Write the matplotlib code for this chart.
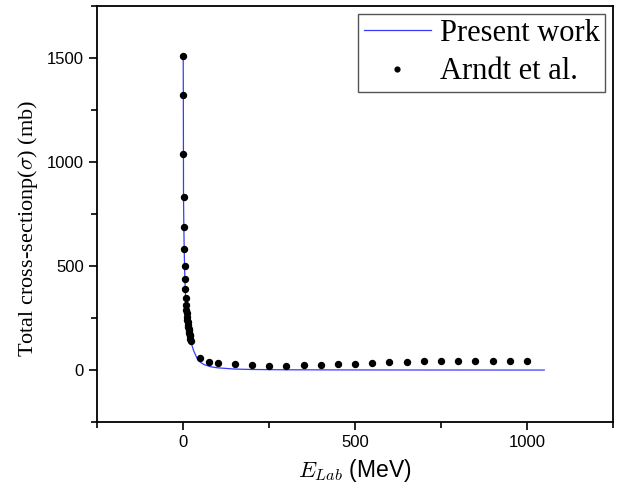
import matplotlib
matplotlib.use("Agg")
import matplotlib.pyplot as plt
from matplotlib.ticker import MultipleLocator

plt.rcParams['mathtext.fontset'] = 'cm'

# Arndt et al. data points (E_lab in MeV, total cross-section in mb)
arndt_e = [0.1, 0.5, 0.8, 1, 2, 3, 4, 5, 6, 7, 8, 9, 10, 11, 12, 13, 14, 15,
           16, 17, 18, 19, 20, 21, 22, 50, 75, 100, 150, 200, 250, 300, 350,
           400, 450, 500, 550, 600, 650, 700, 750, 800, 850, 900, 950, 1000]
arndt_sigma = [1511, 1322, 1038, 833, 687, 580, 500, 439, 389, 348, 313, 290,
               272, 256, 242, 229, 217, 206, 196, 187, 178, 170, 162, 150, 139,
               59, 40, 32, 27, 24, 22, 22, 24, 26, 29, 30, 34, 37, 38, 43, 45,
               45, 45, 46, 46, 46]

# present work curve
present_e = [0.1, 0.5, 0.8, 1, 2, 3, 4, 5, 6, 8, 10, 12, 15, 20, 25, 30, 40,
             50, 60, 80, 100, 150, 200, 300, 500, 700, 1000, 1050]
present_sigma = [1511, 1322, 1038, 833, 687, 580, 500, 439, 389, 313, 272, 242,
                 206, 160, 122, 95, 58, 38, 27, 16, 11, 5, 3, 1.5, 0.8, 0.5,
                 0.3, 0.3]

fig = plt.figure(figsize=(6.23, 4.92), dpi=100)
ax = fig.add_axes([0.156, 0.142, 0.828, 0.846])

ax.plot(present_e, present_sigma, color='#3a3aff', lw=0.9, label='Present work')
ax.plot(arndt_e, arndt_sigma, 'o', color='black', ms=4.3, ls='none',
        label='Arndt et al.')

ax.set_xlim(-250, 1250)
ax.set_ylim(-250, 1750)
ax.xaxis.set_minor_locator(MultipleLocator(250))
ax.yaxis.set_minor_locator(MultipleLocator(250))
ax.set_xticks([0, 500, 1000])
ax.set_yticks([0, 500, 1000, 1500])
ax.tick_params(which='major', direction='out', length=6, width=1.2,
               labelsize=12, top=False, right=False)
ax.tick_params(which='minor', direction='out', length=4, width=1.2,
               top=False, right=False)
for lab in ax.get_xticklabels() + ax.get_yticklabels():
    lab.set_family('Liberation Sans')
for sp in ax.spines.values():
    sp.set_linewidth(1.3)

ax.set_xlabel(r'$E_{Lab}$ (MeV)', fontsize=16.5, family='Liberation Sans',
              labelpad=5)
ax.set_ylabel(r'Total cross-sectionp($\sigma$) (mb)', fontsize=16,
              family='Liberation Serif')
ax.yaxis.set_label_coords(-0.11, 0.465)

leg = ax.legend(loc='upper right', prop={'family': 'Liberation Serif', 'size': 22},
                fancybox=False, framealpha=1, edgecolor='#555555',
                borderaxespad=0.25, handlelength=2.2, handletextpad=0.3,
                labelspacing=0.3, borderpad=0.18, markerscale=0.8)
leg.get_frame().set_linewidth(1.0)

fig.savefig('out.png', dpi=100)
